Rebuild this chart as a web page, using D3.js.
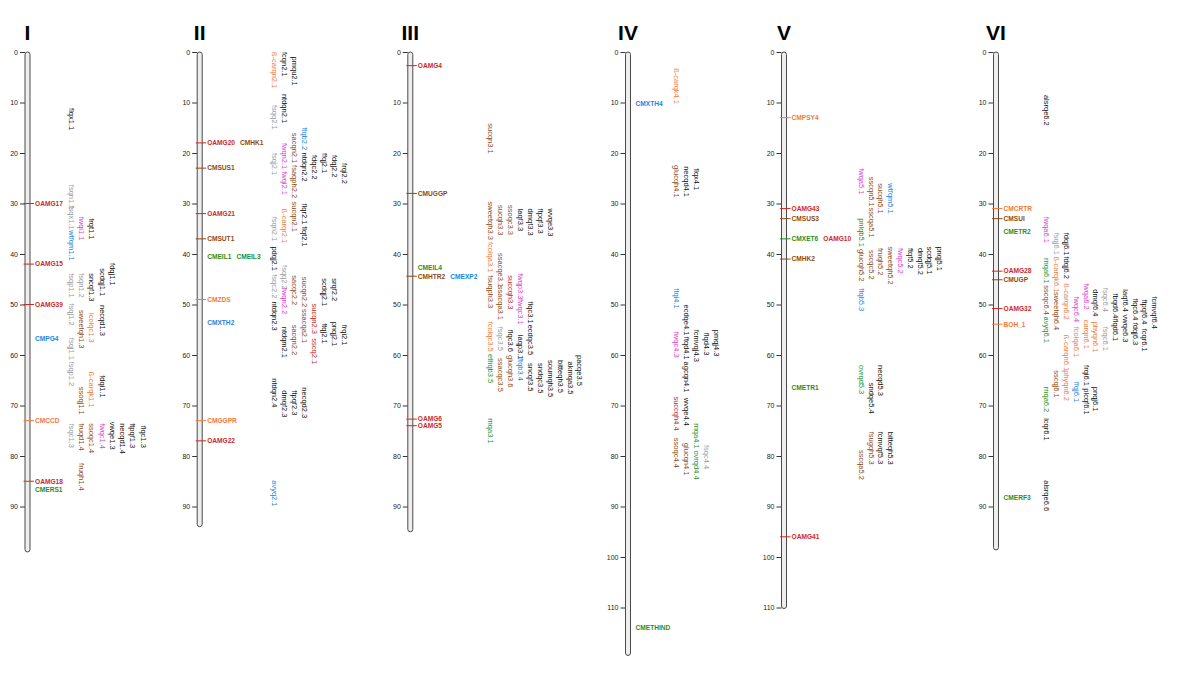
<!DOCTYPE html>
<html><head><meta charset="utf-8">
<script src="https://cdn.jsdelivr.net/npm/d3@7"></script>
<style>body{margin:0;background:#fff}svg{display:block;font-family:"Liberation Sans",Arial,sans-serif}</style>
</head><body><svg id="chart" width="1200" height="677"></svg>
<script>
// ---------------- DATA ----------------
const chromosomes = ["I", "II", "III", "IV", "V", "VI"];
const chromLength = [99, 94, 95, 119.5, 110.2, 98.6];   // cM

// markers: [name, cM, class, mapped-tick]
const markers_I = [
  ["OAMG17", 30, "oamg", 1], ["OAMG15", 42, "oamg", 1], ["OAMG39", 50, "oamg", 1],
  ["CMPG4", 56.8, "cellwall", 0], ["CMCCD", 73, "carotenoid", 1],
  ["OAMG18", 85, "oamg", 1], ["CMERS1", 86.6, "ethylene", 0]
];
const markers_II = [
  ["OAMG20", 18, "oamg", 1], ["CMHK1", 18, "sugar", 0], ["CMSUS1", 23, "sugar", 1],
  ["OAMG21", 32, "oamg", 1], ["CMSUT1", 37, "sugar", 1],
  ["CMEIL1", 40.5, "ethylene", 0], ["CMEIL3", 40.5, "ethylene", 0],
  ["CMZDS", 49, "carotenoid", 1], ["CMXTH2", 53.7, "cellwall", 0],
  ["CMGGPR", 73, "carotenoid", 1], ["OAMG22", 77, "oamg", 1]
];
const markers_III = [
  ["OAMG4", 2.7, "oamg", 1], ["CMUGGP", 28, "sugar", 1], ["CMEIL4", 42.8, "ethylene", 0],
  ["CMHTR2", 44.4, "sugar", 1], ["CMEXP2", 44.4, "cellwall", 0],
  ["OAMG6", 72.7, "oamg", 1], ["OAMG5", 74, "oamg", 1]
];
const markers_IV = [
  ["CMXTH4", 10.2, "cellwall", 0], ["CMETHIND", 114, "ethylene", 0]
];
const markers_V = [
  ["CMPSY4", 13, "carotenoid", 1], ["OAMG43", 31, "oamg", 1], ["CMSUS3", 33, "sugar", 1],
  ["CMXET6", 37, "ethylene", 1], ["OAMG10", 37, "oamg", 0], ["CMHK2", 41, "sugar", 1],
  ["CMETR1", 66.5, "ethylene", 0], ["OAMG41", 96, "oamg", 1]
];
const markers_VI = [
  ["CMCRTR", 31, "carotenoid", 1], ["CMSUI", 33, "sugar", 1], ["CMETR2", 35.6, "ethylene", 0],
  ["OAMG28", 43.4, "oamg", 1], ["CMUGP", 45.1, "sugar", 1], ["OAMG32", 50.8, "oamg", 1],
  ["BOH_1", 53.9, "carotenoid", 1], ["CMERF3", 88.3, "ethylene", 0]
];

// QTLs: [name, cM, lane, trait class]
const qtl_I = [
  ["flqx1.1", 11.1, 0, "morph"], ["fsqn1.1", 26.3, 0, "seed"], ["fsqx1.1", 30.4, 0, "seed"],
  ["wtfqm1.1", 35.3, 0, "texture"], ["fsqp1.1", 43.8, 0, "seed"], ["fsqj1.2", 49.8, 0, "seed"],
  ["fsqj1.1", 56.6, 0, "seed"], ["fsqp1.2", 61.3, 0, "seed"], ["fsqc1.3", 73.6, 0, "seed"],
  ["fwqi1.1", 32.6, 1, "weight"], ["fsqn1.2", 43.8, 1, "seed"], ["sweetqh1.3", 51.1, 1, "sugar"],
  ["ssoqj1.1", 66.3, 1, "sugar"], ["fruqd1.4", 73.5, 1, "sugar"], ["fruqh1.4", 81.4, 1, "sugar"],
  ["frqt1.1", 32.9, 2, "morph"], ["sncqf1.3", 43.8, 2, "morph"], ["lcolqc1.3", 51.7, 2, "carotenoid"],
  ["ß-carqk1.1", 63.3, 2, "carotenoid"], ["ssoqc1.4", 73.5, 2, "sugar"],
  ["scdqj1.1", 42.8, 3, "morph"], ["necqd1.3", 50.1, 3, "morph"], ["fdqi1.1", 64, 3, "morph"],
  ["fwqc1.4", 73.5, 3, "weight"],
  ["fdqj1.1", 41.8, 4, "morph"], ["vwqe1.3", 73.2, 4, "morph"],
  ["necqd1.4", 73.5, 5, "morph"], ["ftpqf1.3", 73.5, 6, "morph"], ["flqc1.3", 74, 7, "morph"]
];
const qtl_II = [
  ["ß-carqn2.1", 0, 0, "carotenoid"], ["fsqq2.1", 10.5, 0, "seed"], ["fsqj2.1", 20, 0, "seed"],
  ["fsqn2.1", 32.6, 0, "seed"], ["pdqj2.1", 38.5, 0, "morph"], ["fsqc2.2", 44, 0, "seed"],
  ["ntdqn2.3", 49.4, 0, "morph"], ["ntdqn2.4", 64.6, 0, "morph"], ["avyq2.1", 84.8, 0, "texture"],
  ["fcqn2.1", 0, 1, "morph"], ["ntdqn2.1", 8.3, 1, "morph"], ["fwqn2.1", 18, 1, "weight"],
  ["fwqi2.1", 23.6, 1, "weight"], ["ß-carqr2.1", 31, 1, "carotenoid"], ["fsqq2.2", 42.2, 1, "seed"],
  ["fwqn2.2", 46.7, 1, "weight"], ["ntdqm2.1", 54.4, 1, "morph"], ["dmqf2.3", 67, 1, "morph"],
  ["pmqu2.1", 0.9, 2, "morph"], ["sacqn2.1", 16, 2, "sugar"], ["fsaqph2.2", 22.4, 2, "sugar"],
  ["sucqn2.1", 29.6, 2, "sugar"], ["sacqc2.2", 44.2, 2, "sugar"], ["sacqn2.2", 54, 2, "sugar"],
  ["ftpqf2.3", 67, 2, "morph"],
  ["ftqb2.2", 14.9, 3, "texture"], ["ntdqn2.2", 19.9, 3, "morph"], ["flqr2.1", 30, 3, "morph"],
  ["flqt2.1", 34.5, 3, "morph"], ["sucqn2.2", 44.5, 3, "sugar"], ["ssacqa2.1", 50.9, 3, "sugar"],
  ["necqd2.3", 66.4, 3, "morph"],
  ["fdqc2.2", 20.4, 4, "morph"], ["sucqn2.3", 49.8, 4, "sucrose"], ["sscq2.1", 56.7, 4, "sucrose"],
  ["ffqj2.1", 20, 5, "morph"], ["scdqj2.1", 44.8, 5, "morph"], ["ftqj2.1", 53.7, 5, "morph"],
  ["fdqj2.2", 20.4, 6, "morph"], ["srqf2.2", 44.8, 6, "morph"], ["pnqj2.1", 53.4, 6, "morph"],
  ["frqi2.2", 22, 7, "morph"], ["frqi2.1", 54, 7, "morph"]
];
const qtl_III = [
  ["sucqn3.1", 14.1, 0, "sugar"], ["sweetqh3.3", 29.6, 0, "sugar"], ["fcolqa3.1", 37.6, 0, "carotenoid"],
  ["fsuqph3.3", 44.2, 0, "sugar"], ["fcolqc3.5", 53.4, 0, "carotenoid"], ["ethqb3.5", 59.8, 0, "ripening"],
  ["rnqa3.1", 72.5, 0, "ripening"],
  ["sucqh3.3", 30.3, 1, "sugar"], ["ssacqe3.1", 39.8, 1, "sugar"], ["ssacqa3.1", 46.3, 1, "sugar"],
  ["fsqc3.5", 54.4, 1, "seed"], ["ssacqc3.5", 60.6, 1, "sugar"],
  ["ssoqc3.3", 30.3, 2, "sugar"], ["succqh3.3", 44.2, 2, "sucrose"], ["flqc3.6", 55, 2, "morph"],
  ["glucqh3.6", 60, 2, "sugar"],
  ["laqf3.3", 31, 3, "morph"], ["fwqp3.3", 43.8, 3, "weight"], ["fwqc3.1", 48.9, 3, "weight"],
  ["laqp3.1", 56, 3, "morph"], ["ftqb3.4", 60.6, 3, "texture"],
  ["dmqf3.3", 31, 4, "morph"], ["flqc3.1", 49.4, 4, "morph"], ["ecdqc3.5", 54, 4, "morph"],
  ["sncqf3.5", 61.6, 4, "morph"],
  ["ftpqf3.3", 31, 5, "morph"], ["sndqc3.5", 61.6, 5, "morph"],
  ["wvqe3.3", 31, 6, "morph"], ["soumqh3.5", 61, 6, "morph"],
  ["bitteqh3.5", 61, 7, "morph"], ["akmqa3.5", 61.3, 8, "morph"], ["pacqe3.5", 60, 9, "morph"]
];
const qtl_IV = [
  ["ß-carqk4.1", 3.2, 0, "carotenoid"], ["glucqh4.1", 22.4, 0, "sugar"], ["ftqi4.1", 46.8, 0, "texture"],
  ["fwqc4.3", 55.4, 0, "weight"], ["succqh4.4", 68.2, 0, "sucrose"], ["ssoqc4.4", 76.4, 0, "sugar"],
  ["necqd4.1", 22.6, 1, "morph"], ["ecdqe4.1", 50, 1, "morph"], ["ftqd4.1", 56.4, 1, "morph"],
  ["agcqn4.1", 61.3, 1, "morph"], ["wvqe4.4", 68.5, 1, "morph"], ["glucqn4.1", 77.4, 1, "sugar"],
  ["flqx4.1", 23, 2, "morph"], ["fcmvqj4.3", 55, 2, "morph"], ["rnqa4.1", 73.5, 2, "ripening"],
  ["ovrqd4.4", 78.9, 2, "ripening"],
  ["flqd4.3", 55.6, 3, "morph"], ["fsqc4.4", 77.8, 3, "seed"],
  ["pmqj4.3", 55, 4, "morph"]
];
const qtl_V = [
  ["fwqa5.1", 23, 0, "weight"], ["pnlqb5.1", 32.9, 0, "ripening"], ["glucqh5.2", 39, 0, "sugar"],
  ["ftqb5.3", 46.8, 0, "texture"], ["ovrqd5.3", 62, 0, "ripening"], ["sscqa5.2", 78.8, 0, "sugar"],
  ["sscqn5.1", 24.7, 1, "sugar"], ["sscqa5.1", 30.8, 1, "sugar"], ["sscqc5.2", 39.2, 1, "sugar"],
  ["sndqe5.4", 65.5, 1, "morph"], ["fsugqh5.3", 75.2, 1, "sugar"],
  ["sucqh5.1", 26, 2, "sugar"], ["fruqh5.2", 38.8, 2, "sugar"], ["necqd5.3", 62, 2, "morph"],
  ["fcmvqf5.3", 75.2, 2, "morph"],
  ["wtfqm5.1", 26, 3, "texture"], ["sweetqh5.2", 38.5, 3, "sugar"], ["bitteqh5.3", 75.2, 3, "morph"],
  ["fwqc5.2", 38.8, 4, "weight"], ["ftqf5.2", 38.8, 5, "morph"], ["dmqf5.2", 38.8, 6, "morph"],
  ["scdqj5.1", 38.5, 7, "morph"], ["pnqj5.1", 38.5, 8, "morph"]
];
const qtl_VI = [
  ["alsrqe6.2", 8.5, 0, "morph"], ["fwqa6.1", 32.6, 0, "weight"], ["rnqa6.1", 40.8, 0, "ripening"],
  ["sscqc6.4", 46.2, 0, "sugar"], ["avyq6.1", 52.4, 0, "ripening"], ["rnqa6.2", 66.3, 0, "ripening"],
  ["lcqr6.1", 72.5, 0, "morph"], ["alsrqe6.6", 84.8, 0, "morph"],
  ["fsqj6.1", 35.8, 1, "seed"], ["ß-carqk6.1", 40.5, 1, "carotenoid"], ["sweetqh6.4", 47.5, 1, "sugar"],
  ["sscqj6.1", 63, 1, "sugar"],
  ["fdqj6.1", 35.8, 2, "morph"], ["fdqj6.2", 40.5, 2, "morph"], ["ß-carqn6.2", 45.8, 2, "carotenoid"],
  ["ß-carqn6.1", 56, 2, "carotenoid"], ["phyqn6.2", 63, 2, "carotenoid"],
  ["fwqc6.4", 48.4, 3, "weight"], ["fcolqa6.1", 54.4, 3, "carotenoid"], ["ffqj6.1", 65.3, 3, "texture"],
  ["fwqa6.2", 45.8, 4, "weight"], ["carqn6.1", 53, 4, "carotenoid"], ["frqi6.1", 62, 4, "morph"],
  ["plcqf6.1", 66.6, 4, "morph"],
  ["dmqf6.4", 47, 5, "morph"], ["phyqn6.1", 53.4, 5, "carotenoid"], ["pnqj6.1", 66.3, 5, "morph"],
  ["fsqc6.4", 46.7, 6, "seed"], ["fsqc6.1", 54.4, 6, "seed"],
  ["fbqd6.4", 47.8, 7, "morph"], ["flqd6.1", 52.8, 7, "morph"],
  ["laqf6.4", 47, 8, "morph"], ["vwqe6.3", 52, 8, "morph"],
  ["flqc6.4", 48.8, 9, "morph"], ["fdqj6.3", 53.6, 9, "morph"],
  ["ftpqf6.4", 49, 10, "morph"], ["fcqr6.1", 54.8, 10, "morph"],
  ["fcmvqf6.4", 48.4, 11, "morph"]
];
const markerSets = [markers_I, markers_II, markers_III, markers_IV, markers_V, markers_VI];
const qtlSets = [qtl_I, qtl_II, qtl_III, qtl_IV, qtl_V, qtl_VI];

// ---------------- LAYOUT & STYLE ----------------
const chromX = [27.5, 199.7, 410.3, 628, 784, 996];
const laneOrigin = [71.3, 275, 491, 676.5, 861.5, 1047];
const laneStep = [10.3, 10, 9.9, 10, 9.8, 9.8];
const markerColor = {oamg: "#cc2a22", sugar: "#8b4a16", ethylene: "#1f8f1f", cellwall: "#2185e0", carotenoid: "#f07a3c"};
const qtlColor = {morph: "#111", seed: "#9a9a9a", weight: "#e040d0", texture: "#2185e0",
  carotenoid: "#f07a3c", sugar: "#8b4a16", sucrose: "#c02828", ripening: "#1f8f1f"};

const svg = d3.select("#chart");
const y = d3.scaleLinear().domain([0, 120]).range([52, 52 + 120 * 5.05]);

chromosomes.forEach((name, i) => {
  const cx = chromX[i];
  const len = chromLength[i];
  const g = svg.append("g");

  g.append("text").attr("x", cx).attr("y", 40).attr("text-anchor", "middle")
    .attr("font-size", 21).attr("font-weight", "bold").attr("fill", "#000").text(name);

  const axis = d3.axisLeft(y).tickValues(d3.range(0, len + 0.01, 10)).tickSize(5).tickPadding(2);
  const ag = g.append("g").attr("transform", `translate(${cx - 2.5},0)`).call(axis);
  ag.select(".domain").remove();
  ag.selectAll("text").attr("font-size", 7).attr("fill", "#222").attr("font-family", "Liberation Sans, Arial");
  ag.selectAll("line").attr("stroke", "#333");

  g.append("rect").attr("x", cx - 2.5).attr("y", y(0)).attr("width", 5)
    .attr("height", y(len) - y(0)).attr("rx", 2.5)
    .attr("fill", "#eeeeee").attr("stroke", "#4a4a4a").attr("stroke-width", 1);

  let prevCM = null, prevEnd = 0;
  markerSets[i].forEach(([mName, cM, cls, tick]) => {
    const col = markerColor[cls];
    let x = cx + 7.5;
    if (prevCM !== null && Math.abs(cM - prevCM) < 0.3) x = prevEnd + 5;
    if (tick) g.append("line").attr("x1", cx - 4).attr("x2", cx + 6.5)
      .attr("y1", y(cM)).attr("y2", y(cM)).attr("stroke", col).attr("stroke-width", 1);
    const t = g.append("text").attr("x", x).attr("y", y(cM)).attr("dy", "0.35em")
      .attr("font-size", 6.6).attr("font-weight", "bold").attr("fill", col).text(mName);
    prevEnd = x + t.node().getComputedTextLength();
    prevCM = cM;
  });

  qtlSets[i].forEach(([qName, cM, lane, cls]) => {
    const lx = laneOrigin[i] + lane * laneStep[i];
    g.append("text").attr("transform", `translate(${lx},${y(cM)}) rotate(90)`)
      .attr("dy", "0.35em").attr("font-size", 7.5).attr("fill", qtlColor[cls]).text(qName);
  });
});
</script></body></html>
